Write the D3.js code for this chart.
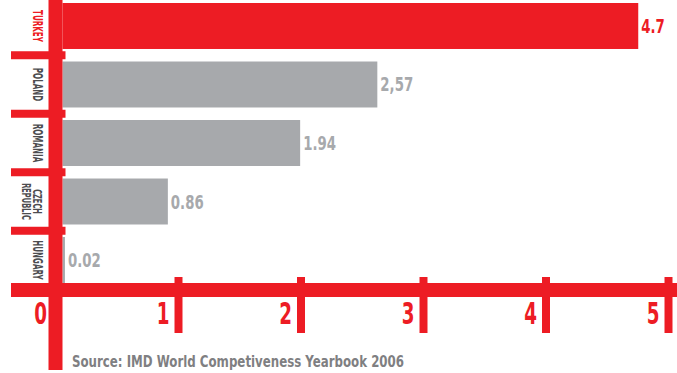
<!DOCTYPE html>
<html>
<head>
<meta charset="utf-8">
<script src="https://cdn.jsdelivr.net/npm/d3@7"></script>
<style>
  html, body { margin: 0; padding: 0; background: #fff; }
  svg { display: block; }
  text { font-family: "Liberation Sans Narrow", "DejaVu Sans Condensed", "Arial Narrow", sans-serif; font-weight: bold; }
</style>
</head>
<body>
<svg id="chart" width="677" height="373"></svg>
<script>
// Ranking data
const categories = ["TURKEY", "POLAND", "ROMANIA", "CZECH REPUBLIC", "HUNGARY"];
const categoryLines = [["TURKEY"], ["POLAND"], ["ROMANIA"], ["CZECH", "REPUBLIC"], ["HUNGARY"]];
const values = [4.7, 2.57, 1.94, 0.86, 0.02];
const valueLabels = ["4.7", "2,57", "1.94", "0.86", "0.02"];
const tickValues = [0, 1, 2, 3, 4, 5];
const highlighted = "TURKEY";
const sourceNote = "Source: IMD World Competiveness Yearbook 2006";

const RED = "#ed1c24";
const GREY = "#a7a9ac";
const DARK = "#4d4d4f";

const svg = d3.select("#chart");

const x = d3.scaleLinear().domain([0, 5]).range([55.5, 668]);
const y = d3.scaleBand().domain(categories).range([3, 283]).paddingInner(0.214).paddingOuter(0);

const spineHalf = 7;                 // half width of the vertical red spine
const barStart = x(0) + spineHalf;   // bars grow out from the spine's right edge
const axisTop = 283, axisBottom = 297;

const rows = categories.map((c, i) => ({
  name: c, lines: categoryLines[i], value: values[i], label: valueLabels[i]
}));

// Bars
svg.append("g").selectAll("rect").data(rows).join("rect")
  .attr("x", barStart)
  .attr("y", d => y(d.name))
  .attr("width", d => x(d.value) - x(0))
  .attr("height", y.bandwidth())
  .attr("fill", d => d.name === highlighted ? RED : GREY);

// Value labels (condensed)
svg.append("g").selectAll("text").data(rows).join("text")
  .attr("transform", d => `translate(${barStart + x(d.value) - x(0) + 3},${y(d.name) + y.bandwidth() / 2 + 7}) scale(0.74,1)`)
  .attr("font-size", 20)
  .attr("fill", d => d.name === highlighted ? RED : GREY)
  .text(d => d.label);

// Row separators on the left of the spine
const gap = y.step() - y.bandwidth();
svg.append("g").selectAll("rect").data(categories.slice(1)).join("rect")
  .attr("x", 11)
  .attr("y", d => y(d) - gap / 2 - 4)
  .attr("width", barStart + 3 - 11)
  .attr("height", 8)
  .attr("fill", RED);

// Vertical spine
svg.append("rect")
  .attr("x", x(0) - spineHalf).attr("y", 0)
  .attr("width", spineHalf * 2).attr("height", 370)
  .attr("fill", RED);

// Horizontal axis band
svg.append("rect")
  .attr("x", 11).attr("y", axisTop)
  .attr("width", 677 - 11).attr("height", axisBottom - axisTop)
  .attr("fill", RED);

// Axis ticks and labels
const axis = d3.axisBottom(x).tickValues(tickValues).tickFormat(d3.format("d")).tickSizeOuter(0);
const gAxis = svg.append("g").attr("transform", `translate(0,${axisTop})`).call(axis);
gAxis.select(".domain").remove();
gAxis.selectAll(".tick line")
  .attr("y1", -6).attr("y2", 50)
  .attr("stroke", RED).attr("stroke-width", 8)
  .attr("opacity", d => d === 0 ? 0 : 1);
gAxis.selectAll(".tick text")
  .attr("x", null).attr("y", null).attr("dy", null)
  .attr("transform", "translate(-9,41) scale(0.68,1)")
  .attr("text-anchor", "end")
  .attr("font-size", 30)
  .attr("font-family", null)
  .attr("fill", RED);

// Category labels, rotated along the spine
const catG = svg.append("g").selectAll("g").data(rows).join("g")
  .attr("transform", d => `translate(33,${y(d.name) + y.bandwidth() / 2}) rotate(90) scale(0.57,1)`);
catG.each(function (d) {
  const g = d3.select(this);
  const multi = d.lines.length > 1;
  d.lines.forEach((ln, j) => {
    g.append("text")
      .attr("x", 0)
      .attr("y", multi ? j * 10.5 : 0)
      .attr("text-anchor", "middle")
      .attr("font-size", multi ? 13 : 14)
      .attr("fill", d.name === highlighted ? RED : DARK)
      .text(ln);
  });
});

// Source note
svg.append("text")
  .attr("x", 72).attr("y", 367)
  .attr("font-size", 16)
  .attr("fill", "#7f7f82")
  .attr("textLength", 332)
  .attr("lengthAdjust", "spacingAndGlyphs")
  .text(sourceNote);
</script>
</body>
</html>
